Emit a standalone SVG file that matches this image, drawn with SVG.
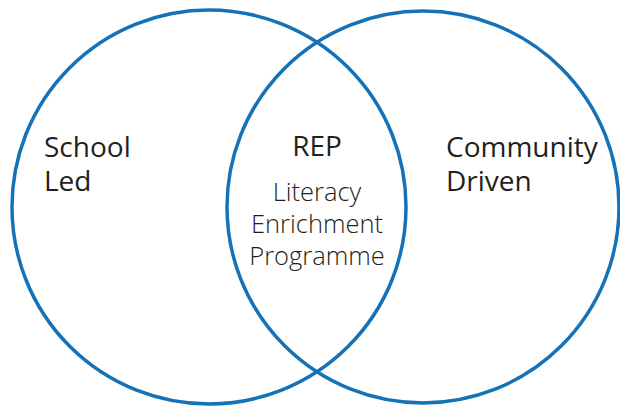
<svg xmlns="http://www.w3.org/2000/svg" width="620" height="406" viewBox="0 0 620 406">
<style>
.c{fill:none;stroke:#1672b7;stroke-width:3.5}
.h{font-family:"Open Sans","Liberation Sans",sans-serif;font-size:28px;fill:#231f20}
.b{font-weight:500}
.s{font-family:"Open Sans","Liberation Sans",sans-serif;font-size:25.5px;fill:#231f20;font-weight:300;text-anchor:middle}
</style>
<rect width="620" height="406" fill="#fff"/>
<g id="school">
<circle class="c" cx="209" cy="207" r="197"/>
<text class="h" x="44" y="157">School</text>
<text class="h" x="44" y="191">Led</text>
</g>
<g id="community">
<circle class="c" cx="423" cy="207" r="196"/>
<text class="h" x="446" y="157">Community</text>
<text class="h" x="446" y="191">Driven</text>
</g>
<g id="rep">
<text class="h b" x="317" y="156" text-anchor="middle">REP</text>
<text class="s" x="317" y="201">Literacy</text>
<text class="s" x="317" y="233">Enrichment</text>
<text class="s" x="317" y="265">Programme</text>
</g>
<g id="connectors"/>
</svg>
